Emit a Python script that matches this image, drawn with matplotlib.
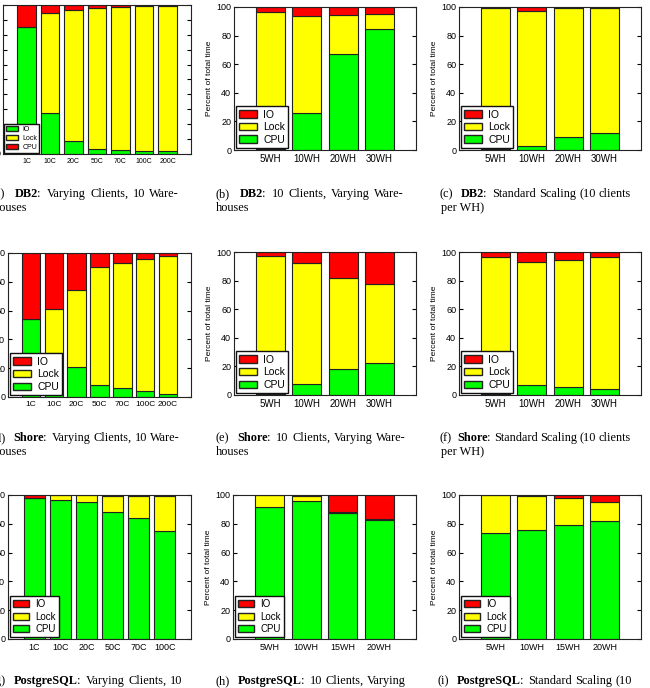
import matplotlib
matplotlib.use("Agg")
import matplotlib.pyplot as plt
from matplotlib.patches import Patch

plt.rcParams['font.family'] = 'Liberation Sans'

W, H = 650, 688
red = "#ff0000"
yellow = "#ffff00"
green = "#00ff00"
edge = "#222222"

clients7 = ["1C", "10C", "20C", "50C", "70C", "100C", "200C"]
clients6 = ["1C", "10C", "20C", "50C", "70C", "100C"]
wh_30 = ["5WH", "10WH", "20WH", "30WH"]
wh_20 = ["5WH", "10WH", "15WH", "20WH"]

# percent of total time (CPU bottom, Lock middle, IO top)
db2_cl_cpu = [85.5, 27.3, 9.0, 3.4, 2.5, 2.0, 2.0]
db2_cl_lock = [0.0, 67.1, 87.6, 94.8, 96.4, 97.1, 97.5]
db2_cl_io = [14.5, 5.6, 3.4, 1.8, 1.1, 0.9, 0.5]

db2_wh_cpu = [1.0, 25.6, 67.0, 84.9]
db2_wh_lock = [95.5, 68.1, 27.7, 10.0]
db2_wh_io = [3.5, 6.3, 5.3, 5.1]

db2_sc_cpu = [1.0, 2.8, 9.1, 11.9]
db2_sc_lock = [98.1, 94.6, 90.0, 87.2]
db2_sc_io = [0.9, 2.6, 0.9, 0.9]

sh_cl_cpu = [53.9, 30.6, 20.6, 8.6, 6.3, 3.9, 2.1]
sh_cl_lock = [0.0, 30.5, 53.5, 81.7, 87.0, 91.7, 95.8]
sh_cl_io = [46.1, 38.9, 25.9, 9.7, 6.7, 4.4, 2.1]

sh_wh_cpu = [1.0, 7.4, 17.9, 22.1]
sh_wh_lock = [96.2, 85.2, 64.2, 55.8]
sh_wh_io = [2.8, 7.4, 17.9, 22.1]

sh_sc_cpu = [1.0, 6.7, 5.6, 4.2]
sh_sc_lock = [95.3, 86.6, 89.1, 92.1]
sh_sc_io = [3.7, 6.7, 5.3, 3.7]

pg_cl_cpu = [97.7, 96.3, 94.9, 88.2, 83.8, 75.2]
pg_cl_lock = [0.0, 3.5, 4.9, 11.1, 15.3, 23.9]
pg_cl_io = [2.3, 0.2, 0.2, 0.7, 0.9, 0.9]

pg_wh_cpu = [91.4, 96.1, 87.5, 82.4]
pg_wh_lock = [8.4, 3.4, 0.9, 1.2]
pg_wh_io = [0.2, 0.5, 11.6, 16.4]

pg_sc_cpu = [73.4, 75.5, 79.4, 81.7]
pg_sc_lock = [26.6, 23.6, 18.7, 13.2]
pg_sc_io = [0.0, 0.9, 1.9, 5.1]

fig = plt.figure(figsize=(6.5, 6.88), dpi=100)


def add_ax(l, r, t, b):
    return fig.add_axes([l / W, 1 - b / H, (r - l) / W, (b - t) / H])


def draw(ax, cats, cpu, lock, io, xfs=7, yfs=6.5, lfs=7.5, step=20, swap=False):
    x = list(range(len(cats)))
    mid = [c + k for c, k in zip(cpu, lock)]
    ax.bar(x, cpu, 0.8, color=green, edgecolor=edge, lw=0.8)
    ax.bar(x, lock, 0.8, bottom=cpu, color=yellow, edgecolor=edge, lw=0.8)
    ax.bar(x, io, 0.8, bottom=mid, color=red, edgecolor=edge, lw=0.8)
    ax.set_xlim(-1, len(cats))
    ax.set_ylim(0, 100)
    ax.set_xticks(x)
    ax.set_xticklabels(cats, fontsize=xfs)
    ax.set_yticks(range(0, 101, step))
    ax.tick_params(axis='x', length=0, pad=3)
    ax.tick_params(axis='y', direction='in', right=True, length=3, pad=2, labelsize=yfs)
    ax.set_ylabel("Percent of total time", fontsize=6, labelpad=2)
    for s in ax.spines.values():
        s.set_color("#222222")
    if swap:
        hs = [Patch(fc=green, ec=edge, label="IO"), Patch(fc=yellow, ec=edge, label="Lock"),
              Patch(fc=red, ec=edge, label="CPU")]
    else:
        hs = [Patch(fc=red, ec=edge, label="IO"), Patch(fc=yellow, ec=edge, label="Lock"),
              Patch(fc=green, ec=edge, label="CPU")]
    leg = ax.legend(handles=hs, loc='lower left', fontsize=lfs, fancybox=False, framealpha=1,
                    edgecolor="#111111", borderpad=0.3, labelspacing=0.25, handlelength=1.7,
                    handletextpad=0.6, borderaxespad=0.2)
    leg.get_frame().set_linewidth(1)


draw(add_ax(3, 191, 5, 154), clients7, db2_cl_cpu, db2_cl_lock, db2_cl_io,
     xfs=5, yfs=5, lfs=5, step=10, swap=True)
draw(add_ax(234, 416, 7, 150), wh_30, db2_wh_cpu, db2_wh_lock, db2_wh_io)
draw(add_ax(459, 641, 7, 150), wh_30, db2_sc_cpu, db2_sc_lock, db2_sc_io)
draw(add_ax(8, 191, 253, 397), clients7, sh_cl_cpu, sh_cl_lock, sh_cl_io, xfs=6)
draw(add_ax(234, 416, 252, 395), wh_30, sh_wh_cpu, sh_wh_lock, sh_wh_io)
draw(add_ax(459, 641, 252, 395), wh_30, sh_sc_cpu, sh_sc_lock, sh_sc_io)
draw(add_ax(8, 191, 495, 639), clients6, pg_cl_cpu, pg_cl_lock, pg_cl_io, xfs=6.5, lfs=7)
draw(add_ax(233, 416, 495, 639), wh_20, pg_wh_cpu, pg_wh_lock, pg_wh_io, xfs=6.5, lfs=7)
draw(add_ax(459, 641, 495, 639), wh_20, pg_sc_cpu, pg_sc_lock, pg_sc_io, xfs=6.5, lfs=7)

rend = fig.canvas.get_renderer()
CFS = 8.8


def caption(x0, x1, base, label, name, rest):
    # justified first caption line, wider space after label and name
    words = [[(label, False)], [(name, True), (":", False)]] + [[(w, False)] for w in rest]
    weights = [2.2, 1.6] + [1.0] * (len(rest) - 1)
    placed = []
    for w in words:
        pieces = []
        for txt, bold in w:
            t = fig.text(0, 0, txt, fontsize=CFS, family="Liberation Serif",
                         fontweight="bold" if bold else "normal", va="baseline")
            wd = t.get_window_extent(rend).width
            pieces.append((t, wd - (1 if bold else 0)))
        placed.append(pieces)
    tot = sum(p[1] for w in placed for p in w)
    g = (x1 - x0 - tot) / sum(weights)
    x = x0
    for i, pieces in enumerate(placed):
        for t, wd in pieces:
            t.set_position((x / W, 1 - base / H))
            x += wd
        if i < len(weights):
            x += g * weights[i]


def line2(x0, base, txt):
    fig.text(x0 / W, 1 - base / H, txt, fontsize=CFS, family="Liberation Serif", va="baseline")


caption(-8, 179, 197, "(a)", "DB2", ["Varying", "Clients,", "10", "Ware-"])
line2(-6, 211, "houses")
caption(216, 404, 197, "(b)", "DB2", ["10", "Clients,", "Varying", "Ware-"])
line2(216, 211, "houses")
caption(440, 631, 197, "(c)", "DB2", ["Standard", "Scaling", "(10", "clients"])
line2(441, 211, "per WH)")

caption(-8, 180, 441, "(d)", "Shore", ["Varying", "Clients,", "10", "Ware-"])
line2(-6, 455, "houses")
caption(216, 406, 441, "(e)", "Shore", ["10", "Clients,", "Varying", "Ware-"])
line2(216, 455, "houses")
caption(440, 631, 441, "(f)", "Shore", ["Standard", "Scaling", "(10", "clients"])
line2(441, 455, "per WH)")

caption(-8, 182, 684, "(g)", "PostgreSQL", ["Varying", "Clients,", "10"])
caption(216, 406, 684, "(h)", "PostgreSQL", ["10", "Clients,", "Varying"])
caption(438, 632, 684, "(i)", "PostgreSQL", ["Standard", "Scaling", "(10"])

fig.savefig("out.png", dpi=100)
